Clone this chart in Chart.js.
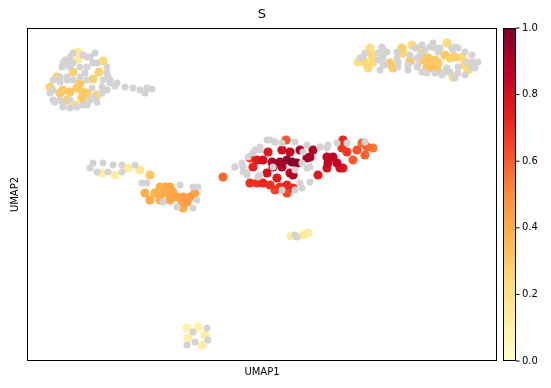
<!DOCTYPE html>
<html>
<head>
<meta charset="utf-8">
<script src="https://cdn.jsdelivr.net/npm/chart.js@4.4.0/dist/chart.umd.min.js"></script>
<style>
  body { margin: 0; background: #fff; }
  #wrap { width: 551px; height: 388px; }
</style>
</head>
<body>
<div id="wrap"><canvas id="c" width="551" height="388"></canvas></div>
<script>
// cells without expression (grey)
const greyX = [67,73,87,95,63,67,80,85,97,107,110,102,92,53,63,70,83,90,115,125,133,140,147,152,145,60,53,73,70,
  65,70,83,90,62,67,73,87,93,107,60,67,80,87,103,108,110,117,53,50,55,60,70,90,93,107,102,63,77,87,97,
  382,378,383,387,397,417,422,430,433,440,455,453,447,450,458,473,472,467,417,408,398,385,380,363,417,442,427,
  382,383,378,383,397,398,408,410,415,360,365,420,425,435,438,452,458,465,472,478,418,422,435,445,458,465,475,455,
  235,243,247,253,260,270,275,295,307,307,320,327,303,295,302,310,347,365,282,243,260,
  267,275,282,260,255,248,242,235,247,258,273,295,300,320,328,337,310,302,
  93,90,103,113,122,108,122,135,142,147,180,193,198,197,193,177,163,97,
  295,297,193,207,187,195,208];
const greyY = [60,53,57,53,63,77,67,73,63,73,80,87,88,100,107,108,105,100,86,87,88,90,88,89,93,82,80,80,67,
  60,57,55,57,67,65,63,67,63,67,77,80,77,80,80,77,83,83,90,93,102,100,100,100,97,90,93,105,107,105,102,
  47,53,58,52,52,48,45,47,43,48,47,50,68,72,67,62,68,62,67,70,62,65,70,57,58,75,73,
  48,55,60,65,58,67,65,55,48,58,53,55,50,48,52,48,48,52,55,62,65,72,73,72,73,75,68,78,
  167,167,175,153,150,140,142,142,145,168,147,148,152,190,188,182,143,142,190,172,175,
  140,142,143,147,150,157,163,167,173,177,167,170,183,147,145,143,167,163,
  163,168,163,165,165,172,172,165,183,183,185,187,187,200,208,207,202,172,
  235,237,332,328,345,342,340];

// expressing cells with their score S
const cellX = [78,78,103,99,73,57,93,80,63,50,70,77,83,97,67,82,75,60,87,
  370,372,373,358,365,368,390,393,402,403,412,410,423,427,430,433,438,445,447,450,455,462,465,468,453,437,428,422,435,
  286,343,342,362,367,373,357,365,353,347,268,282,290,300,313,327,333,310,307,250,257,263,272,280,287,292,297,282,273,253,328,337,340,343,327,318,293,290,277,267,223,250,257,263,270,280,287,293,275,287,
  102,115,128,140,150,145,150,160,165,170,167,160,173,177,183,187,195,190,182,183,160,170,155,
  291,303,308,187,198,205,202,188];
const cellY = [52,59,61,72,72,77,79,83,90,87,92,88,92,95,100,98,105,93,93,
  48,55,62,62,62,68,63,68,48,53,45,61,60,67,63,68,63,55,43,58,57,57,65,70,77,70,58,53,60,
  140,140,148,143,147,148,150,155,160,152,152,150,152,150,150,157,157,157,158,158,160,160,162,162,160,162,163,167,167,167,163,163,168,168,168,175,175,173,178,173,177,183,183,183,185,187,185,188,190,193,
  173,175,168,170,175,193,200,187,187,187,193,195,192,197,197,202,193,197,203,208,200,200,193,
  236,235,233,328,327,335,345,338];
const cellS = [0.15,0.14,0.25,0.27,0.28,0.28,0.27,0.3,0.3,0.27,0.3,0.3,0.3,0.26,0.28,0.3,0.25,0.3,0.29,
  0.22,0.25,0.25,0.22,0.24,0.25,0.3,0.3,0.28,0.26,0.24,0.3,0.3,0.32,0.3,0.32,0.3,0.3,0.24,0.27,0.28,0.24,0.26,0.24,0.22,0.3,0.3,0.28,0.3,
  0.62,0.72,0.68,0.58,0.58,0.55,0.62,0.58,0.6,0.68,0.75,0.8,0.85,0.9,0.9,0.85,0.85,0.9,0.92,0.7,0.75,0.8,0.9,0.92,0.95,1.0,0.95,0.9,0.85,0.72,0.85,0.85,0.8,0.75,0.8,0.75,0.9,0.85,0.75,0.8,0.58,0.7,0.7,0.72,0.7,0.7,0.72,0.7,0.65,0.64,
  0.12,0.12,0.14,0.16,0.3,0.38,0.4,0.38,0.4,0.42,0.4,0.38,0.42,0.42,0.44,0.45,0.44,0.45,0.42,0.4,0.4,0.42,0.38,
  0.12,0.14,0.14,0.1,0.1,0.12,0.12,0.1];

const cbTicks = [0.0, 0.2, 0.4, 0.6, 0.8, 1.0];

// YlOrRd
const stops = ["#ffffcc","#ffeda0","#fed976","#feb24c","#fd8d3c","#fc4e2a","#e31a1c","#bd0026","#800026"];
function hex(h) { return [1,3,5].map(i => parseInt(h.substr(i,2),16)); }
function cmap(v) {
  const t = Math.max(0, Math.min(1, v)) * (stops.length - 1);
  const i = Math.min(Math.floor(t), stops.length - 2);
  const f = t - i;
  const a = hex(stops[i]), b = hex(stops[i+1]);
  const c = a.map((x, k) => Math.round(x + (b[k] - x) * f));
  return `rgb(${c[0]},${c[1]},${c[2]})`;
}

const greyPts = greyX.map((x, i) => ({ x: x, y: greyY[i] }));
const cells = cellX.map((x, i) => ({ x: x, y: cellY[i], s: cellS[i] })).sort((a, b) => a.s - b.s);

const decor = {
  id: "decor",
  afterDraw(chart) {
    const ctx = chart.ctx, a = chart.chartArea;
    ctx.save();
    ctx.strokeStyle = "#000";
    ctx.lineWidth = 1;
    ctx.strokeRect(a.left + 0.5, a.top + 0.5, a.right - a.left - 1, a.bottom - a.top - 1);

    ctx.fillStyle = "#000";
    ctx.font = "13px 'DejaVu Sans'";
    ctx.textAlign = "center";
    ctx.textBaseline = "middle";
    ctx.fillText("S", (a.left + a.right) / 2, 15);
    ctx.font = "10px 'DejaVu Sans'";
    ctx.fillText("UMAP1", (a.left + a.right) / 2, 372);
    ctx.save();
    ctx.translate(15, (a.top + a.bottom) / 2);
    ctx.rotate(-Math.PI / 2);
    ctx.fillText("UMAP2", 0, 0);
    ctx.restore();

    // colour bar
    const bx = 503, bw = 13, top = a.top, bot = a.bottom;
    const g = ctx.createLinearGradient(0, bot, 0, top);
    for (let k = 0; k <= 20; k++) g.addColorStop(k / 20, cmap(k / 20));
    ctx.fillStyle = g;
    ctx.fillRect(bx, top, bw, bot - top);
    ctx.strokeStyle = "#000";
    ctx.strokeRect(bx + 0.5, top + 0.5, bw - 1, bot - top - 1);
    ctx.fillStyle = "#000";
    ctx.textAlign = "left";
    cbTicks.forEach(v => {
      const y = bot - v * (bot - top);
      ctx.beginPath();
      ctx.moveTo(bx + bw, y);
      ctx.lineTo(bx + bw + 3.5, y);
      ctx.stroke();
      ctx.fillText(v.toFixed(1), bx + bw + 6, y);
    });
    ctx.restore();
  }
};

new Chart(document.getElementById("c"), {
  type: "scatter",
  data: {
    datasets: [
      { data: greyPts, backgroundColor: "#d3d3d3", borderWidth: 0, pointRadius: 3.5 },
      { data: cells, backgroundColor: cells.map(c => cmap(c.s)), borderWidth: 0, pointRadius: 4.6 }
    ]
  },
  options: {
    responsive: false,
    animation: false,
    layout: { padding: { left: 27, right: 54, top: 28, bottom: 27 } },
    plugins: { legend: { display: false }, tooltip: { enabled: false } },
    scales: {
      x: { display: false, min: 27, max: 497 },
      y: { display: false, min: 28, max: 361, reverse: true }
    }
  },
  plugins: [decor]
});
</script>
</body>
</html>
